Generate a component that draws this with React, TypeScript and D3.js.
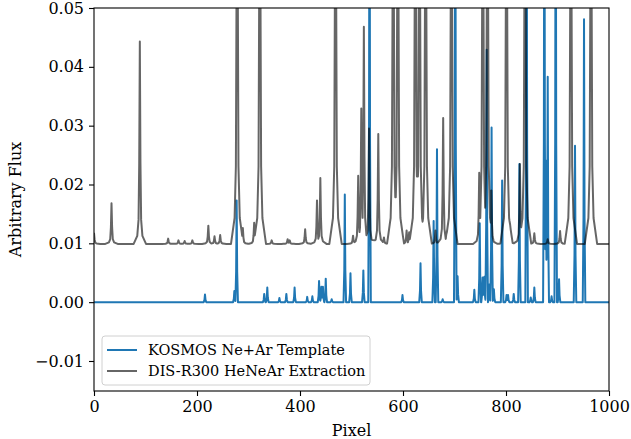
import React, { useEffect, useRef } from 'react';
import * as d3 from 'd3';

// KOSMOS Ne+Ar template: line centres (pixel) and peak flux
const kosmosPixel = [215.5, 272.5, 277, 330.5, 336.5, 360, 373.5, 389.5, 414, 424, 437, 441.5, 444.5, 450, 461.5, 487, 498, 523, 535, 599, 634, 659.5, 666, 677, 701.5, 706, 738.5, 749, 754.5, 758, 762.5, 767.5, 772, 776.5, 792.5, 801, 804, 815, 826, 840, 848, 855, 874.5, 877.5, 881, 888.5, 896.5, 903, 934, 951.5];
const kosmosFlux = [0.0013, 0.0019, 0.0173, 0.0014, 0.0025, 0.0007, 0.0014, 0.0025, 0.0009, 0.001, 0.0036, 0.0026, 0.0026, 0.004, 0.0005, 0.0183, 0.0049, 0.0054, 0.09, 0.0012, 0.0066, 0.0138, 0.026, 0.0005, 0.09, 0.0044, 0.0021, 0.0134, 0.0042, 0.0043, 0.0429, 0.003, 0.0297, 0.0022, 0.0207, 0.0012, 0.0012, 0.0014, 0.0235, 0.09, 0.0008, 0.0025, 0.09, 0.0241, 0.0383, 0.001, 0.09, 0.0039, 0.0266, 0.0481];
const kosmosBase = 0.0;

// DIS-R300 HeNeAr extraction
const disPixel = [0, 34, 89, 144, 164, 176, 191, 222, 234, 245, 278, 289, 311, 322, 345, 376, 380, 410, 433, 439.5, 469, 503, 513, 519, 524, 534, 552, 563, 573, 581, 590, 607, 612, 624, 628, 632, 644, 650, 663, 678, 684, 694, 748, 755, 764, 771.5, 792, 801, 808, 827, 837, 855, 881, 905, 926, 965];
const disFlux = [0.0118, 0.0168, 0.0443, 0.0108, 0.0105, 0.0104, 0.0105, 0.013, 0.0112, 0.0114, 0.12, 0.0126, 0.0135, 0.12, 0.0105, 0.0107, 0.0105, 0.0124, 0.0173, 0.0211, 0.12, 0.0113, 0.0215, 0.0329, 0.0468, 0.0295, 0.0286, 0.011, 0.0109, 0.12, 0.12, 0.0122, 0.0119, 0.12, 0.027, 0.12, 0.12, 0.012, 0.0122, 0.0313, 0.0115, 0.12, 0.022, 0.12, 0.12, 0.019, 0.0107, 0.12, 0.0132, 0.0235, 0.12, 0.0117, 0.0107, 0.0121, 0.12, 0.12];
const disBase = 0.0099;

const xTicks = [0, 200, 400, 600, 800, 1000];
const yTicks = [-0.01, 0, 0.01, 0.02, 0.03, 0.04, 0.05];
const seriesNames = ['KOSMOS Ne+Ar Template', 'DIS-R300 HeNeAr Extraction'];

const App = () => {
  const ref = useRef(null);
  const W = 631, H = 439;
  const margin = { top: 8, right: 22, bottom: 48, left: 94 };
  const width = W - margin.left - margin.right;
  const height = H - margin.top - margin.bottom;
  const font = 'DejaVu Serif';
  const fs = 16;

  useEffect(() => {
    const root = d3.select(ref.current);
    root.selectAll('*').remove();
    const svg = root.append('svg').attr('width', W).attr('height', H)
      .style('position', 'absolute').style('left', 0).style('top', 0);
    const g = svg.append('g').attr('transform', `translate(${margin.left},${margin.top})`);

    const x = d3.scaleLinear().domain([0, 1000]).range([0, width]);
    const y = d3.scaleLinear().domain([-0.0151, 0.05]).range([height, 0]);

    // line shapes (fraction of peak height vs pixel offset)
    const blueShape = d3.scaleLinear().domain([-2.5, -1, 0, 1, 2.5]).range([0, 0.3, 1, 0.3, 0]).clamp(true);
    const greyShape = d3.scaleLinear().domain([-12, -5, -2.5, -1.2, 0, 1.2, 2.5, 5, 12]).range([0, 0.04, 0.12, 0.4, 1, 0.4, 0.12, 0.04, 0]).clamp(true);

    const build = (pix, flux, base, shape) => {
      const offs = shape.domain();
      const xs = new Set([0, 1000]);
      pix.forEach(c => offs.forEach(o => { const v = c + o; if (v >= 0 && v <= 1000) xs.add(v); }));
      return Array.from(xs).sort((a, b) => a - b).map(px => {
        let m = 0;
        pix.forEach((c, i) => { m = Math.max(m, (flux[i] - base) * shape(px - c)); });
        return [px, base + m];
      });
    };

    svg.append('defs').append('clipPath').attr('id', 'clip')
      .append('rect').attr('width', width).attr('height', height);

    const line = d3.line().x(d => x(d[0])).y(d => y(d[1]));
    const plot = g.append('g').attr('clip-path', 'url(#clip)');
    plot.append('path').datum(build(kosmosPixel, kosmosFlux, kosmosBase, blueShape))
      .attr('fill', 'none').attr('stroke', '#1f77b4').attr('stroke-width', 2).attr('stroke-linejoin', 'round').attr('d', line);
    plot.append('path').datum(build(disPixel, disFlux, disBase, greyShape))
      .attr('fill', 'none').attr('stroke', '#000').attr('stroke-opacity', 0.6).attr('stroke-width', 2).attr('stroke-linejoin', 'round').attr('d', line);

    // axes
    const xa = g.append('g').attr('transform', `translate(0,${height})`)
      .call(d3.axisBottom(x).tickValues(xTicks).tickSize(5).tickPadding(5).tickFormat(d3.format('d')));
    const ya = g.append('g')
      .call(d3.axisLeft(y).tickValues(yTicks).tickSize(5).tickPadding(5).tickFormat(d3.format('.2f')));
    [xa, ya].forEach(a => {
      a.select('.domain').remove();
      a.selectAll('line').attr('stroke', '#000').attr('stroke-width', 1.1);
      a.selectAll('text').attr('font-family', font).attr('font-size', fs).attr('fill', '#000');
    });
    g.append('rect').attr('width', width).attr('height', height)
      .attr('fill', 'none').attr('stroke', '#000').attr('stroke-width', 1.1);

    g.append('text').attr('x', width / 2).attr('y', height + 45).attr('text-anchor', 'middle')
      .attr('font-family', font).attr('font-size', fs).text('Pixel');
    g.append('text').attr('transform', `translate(${-73},${height / 2}) rotate(-90)`).attr('text-anchor', 'middle')
      .attr('font-family', font).attr('font-size', fs).text('Arbitrary Flux');

    // legend
    const lg = g.append('g').attr('transform', `translate(${8},${height - 55})`);
    lg.append('rect').attr('width', 268).attr('height', 49).attr('rx', 3)
      .attr('fill', '#fff').attr('fill-opacity', 0.8).attr('stroke', '#d0d0d0');
    const colors = ['#1f77b4', 'rgba(0,0,0,0.6)'];
    seriesNames.forEach((n, i) => {
      const yy = 14 + i * 21;
      lg.append('line').attr('x1', 5).attr('x2', 35).attr('y1', yy).attr('y2', yy)
        .attr('stroke', colors[i]).attr('stroke-width', 2);
      lg.append('text').attr('x', 46).attr('y', yy + 5).attr('font-family', font).attr('font-size', fs - 1.5).text(n);
    });
  }, []);

  return <div ref={ref} />;
};

export default App;
